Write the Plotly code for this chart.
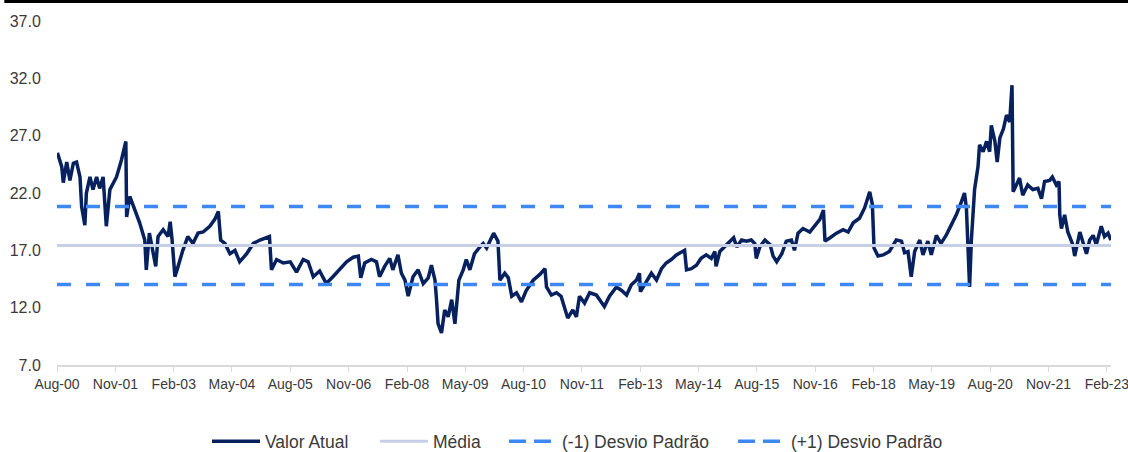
import plotly.graph_objects as go

# ---------------- data ----------------
DATES = [
    "2000-08-04", "2000-09-07", "2000-09-19", "2000-10-16", "2000-11-10", "2000-12-07",
    "2001-01-01", "2001-01-28", "2001-02-10", "2001-03-07", "2001-03-19", "2001-04-16", "2001-05-10",
    "2001-06-07", "2001-07-01", "2001-07-28", "2001-08-22", "2001-09-19", "2001-11-10", "2001-12-19",
    "2002-01-22", "2002-01-28", "2002-02-22", "2002-04-01", "2002-05-10", "2002-06-19", "2002-07-01",
    "2002-07-25", "2002-08-22", "2002-09-13", "2002-10-01", "2002-11-10", "2002-12-18",
    "2003-01-04", "2003-01-19", "2003-02-10", "2003-03-07", "2003-04-13", "2003-05-22", "2003-07-01",
    "2003-08-10", "2003-09-19", "2003-11-10", "2003-12-19",
    "2004-01-16", "2004-02-03", "2004-03-07", "2004-04-16", "2004-05-25", "2004-07-01", "2004-08-25",
    "2004-10-16", "2004-12-07",
    "2005-02-01", "2005-02-19", "2005-03-07", "2005-04-16", "2005-06-07", "2005-08-01", "2005-09-19",
    "2005-11-10", "2005-12-19",
    "2006-01-28", "2006-03-19", "2006-05-10", "2006-07-01", "2006-08-25", "2006-10-16", "2006-12-07",
    "2007-01-16", "2007-02-04", "2007-03-07", "2007-04-28", "2007-06-07", "2007-07-01", "2007-08-10",
    "2007-09-19", "2007-10-13", "2007-11-22", "2007-12-19",
    "2008-01-16", "2008-02-10", "2008-03-19", "2008-04-28", "2008-06-07", "2008-07-16", "2008-08-10",
    "2008-09-07", "2008-09-19", "2008-10-01", "2008-10-28", "2008-11-22", "2008-12-19",
    "2009-01-16", "2009-02-10", "2009-02-25", "2009-03-13", "2009-04-16", "2009-05-10", "2009-06-07",
    "2009-07-13", "2009-08-25", "2009-09-19", "2009-10-16", "2009-11-10", "2009-12-10",
    "2010-01-13", "2010-01-28", "2010-03-07", "2010-04-04", "2010-05-01", "2010-06-07", "2010-07-16",
    "2010-08-22", "2010-10-16", "2010-12-07",
    "2011-01-16", "2011-01-28", "2011-03-07", "2011-04-16", "2011-05-22", "2011-07-13", "2011-08-22",
    "2011-09-19", "2011-10-13", "2011-11-22",
    "2012-01-01", "2012-02-22", "2012-04-25", "2012-06-04", "2012-07-28", "2012-09-07", "2012-10-16",
    "2012-11-22",
    "2013-01-01", "2013-01-25", "2013-02-01", "2013-03-19", "2013-04-28", "2013-06-07", "2013-07-16",
    "2013-08-22", "2013-10-01", "2013-11-10", "2013-12-19",
    "2014-01-13", "2014-01-28", "2014-03-07", "2014-04-16", "2014-05-22", "2014-07-01", "2014-08-10",
    "2014-09-07", "2014-09-16", "2014-10-16", "2014-11-25",
    "2015-01-04", "2015-02-01", "2015-02-25", "2015-04-04", "2015-05-13", "2015-06-19", "2015-07-16",
    "2015-07-28", "2015-08-25", "2015-10-04", "2015-11-13", "2015-12-07",
    "2016-01-04", "2016-02-13", "2016-03-19", "2016-04-28", "2016-05-22", "2016-06-19", "2016-07-28",
    "2016-09-19", "2016-10-28", "2016-12-07",
    "2017-01-04", "2017-01-16", "2017-02-25", "2017-04-16", "2017-06-07", "2017-07-16", "2017-08-25",
    "2017-10-13", "2017-11-22",
    "2018-01-01", "2018-01-22", "2018-02-04", "2018-03-07", "2018-04-16", "2018-06-04", "2018-07-28",
    "2018-09-07", "2018-10-01", "2018-10-28", "2018-11-22", "2018-12-19",
    "2019-01-28", "2019-02-22", "2019-04-01", "2019-04-28", "2019-06-07", "2019-07-13", "2019-08-22",
    "2019-10-01", "2019-11-10", "2019-12-19",
    "2020-01-13", "2020-01-28", "2020-02-10", "2020-02-22", "2020-03-07", "2020-03-19", "2020-04-01",
    "2020-04-28", "2020-05-10", "2020-06-07", "2020-07-04", "2020-07-28", "2020-08-10", "2020-09-07",
    "2020-09-25", "2020-10-16", "2020-11-13", "2020-12-07",
    "2021-01-01", "2021-01-19", "2021-01-28", "2021-02-22", "2021-03-19", "2021-04-13", "2021-05-22",
    "2021-07-01", "2021-08-10", "2021-09-07", "2021-10-01", "2021-11-10", "2021-12-01",
    "2022-01-01", "2022-01-22", "2022-01-28", "2022-02-10", "2022-03-07", "2022-04-01", "2022-05-10",
    "2022-05-25", "2022-07-04", "2022-07-28", "2022-08-25", "2022-09-19", "2022-10-16", "2022-11-10",
    "2022-12-19",
    "2023-01-13", "2023-02-10", "2023-03-04",
]

VALUES = [
    25.5, 24.3, 22.9, 24.7, 23.1, 24.6,
    24.7, 23.4, 20.8, 19.2, 22.0, 23.4, 22.3,
    23.4, 22.4, 23.4, 19.1, 22.3, 23.4, 24.9,
    26.5, 19.9, 21.7, 20.5, 19.4, 17.9, 15.3,
    18.5, 17.0, 15.6, 18.2, 18.8, 18.2,
    19.5, 17.9, 14.7, 15.6, 17.0, 18.2, 17.6,
    18.5, 18.6, 19.1, 19.7,
    20.4, 17.9, 17.6, 16.7, 17.0, 16.0, 16.7,
    17.6, 17.9,
    18.1, 18.2, 15.3, 16.2, 15.9, 16.0, 15.1,
    16.2, 16.0,
    14.7, 15.2, 14.1, 14.7, 15.4, 16.0, 16.4,
    16.5, 14.6, 15.9, 16.2, 16.0, 14.7, 15.6,
    16.3, 15.3, 16.6, 15.0,
    14.4, 13.0, 14.7, 15.3, 14.1, 14.6, 15.7,
    14.4, 12.7, 10.6, 9.8, 11.8, 11.2,
    12.7, 10.6, 12.7, 14.4, 15.3, 16.2, 15.3,
    16.7, 17.3, 17.6, 17.2, 17.8, 18.5,
    17.8, 14.4, 15.0, 14.6, 13.0, 13.3, 12.5,
    13.5, 14.4, 14.9,
    15.4, 13.8, 13.1, 13.3, 13.0, 11.1, 11.8,
    11.2, 13.0, 12.4,
    13.3, 13.1, 12.1, 13.0, 13.8, 13.5, 13.1,
    14.0,
    14.4, 15.0, 13.4, 14.3, 15.0, 14.4, 15.4,
    15.9, 16.2, 16.6, 16.9,
    17.0, 15.3, 15.4, 15.7, 16.3, 16.6, 16.3,
    16.9, 15.6, 16.9, 17.3,
    17.8, 18.1, 17.3, 17.9, 17.8, 17.9, 17.6,
    16.3, 17.3, 17.9, 17.5, 16.5,
    16.0, 16.7, 17.8, 17.9, 17.0, 18.5, 18.9,
    18.6, 19.2, 19.7,
    20.5, 17.8, 18.1, 18.5, 18.8, 18.6, 19.4,
    19.8, 20.7,
    22.1, 21.0, 17.2, 16.5, 16.6, 16.9, 17.9,
    17.8, 16.8, 16.9, 14.7, 16.9,
    17.9, 16.6, 17.8, 16.6, 18.3, 17.6, 18.3,
    19.2, 20.1, 21.2,
    22.0, 20.7, 16.9, 13.8, 17.9, 20.2, 22.3,
    24.3, 26.2, 25.6, 26.5, 25.6, 27.9, 26.5,
    24.7, 26.8, 27.6, 28.8,
    28.2, 31.4, 22.1, 22.7, 23.3, 21.8, 22.7,
    22.3, 22.4, 21.5, 23.0, 23.1, 23.4,
    22.7, 23.0, 20.1, 18.9, 20.1, 18.6, 17.5,
    16.5, 18.6, 17.8, 16.7, 17.9, 18.3, 17.5,
    19.1,
    18.2, 18.5, 17.9,
]

MEDIA = 17.42          # Média
DESVIO = 3.40          # Desvio padrão
X_START = "2000-08-01"
X_END = "2023-03-05"

TICK_DATES = [
    "2000-08-01", "2001-11-01", "2003-02-01", "2004-05-01", "2005-08-01", "2006-11-01",
    "2008-02-01", "2009-05-01", "2010-08-01", "2011-11-01", "2013-02-01", "2014-05-01",
    "2015-08-01", "2016-11-01", "2018-02-01", "2019-05-01", "2020-08-01", "2021-11-01",
    "2023-02-01",
]
TICK_LABELS = [
    "Aug-00", "Nov-01", "Feb-03", "May-04", "Aug-05", "Nov-06", "Feb-08", "May-09", "Aug-10",
    "Nov-11", "Feb-13", "May-14", "Aug-15", "Nov-16", "Feb-18", "May-19", "Aug-20", "Nov-21",
    "Feb-23",
]

SERIES_NAMES = ["Valor Atual", "Média", "(-1) Desvio Padrão", "(+1) Desvio Padrão"]

# ---------------- styles ----------------
NAVY = "#07215f"
LAVENDER = "#c7cfe6"
BLUE = "#3d88f4"
FONT = "Liberation Sans, Arial, sans-serif"
TXT = "#3a3a3a"

# left pixel of each legend entry (page px) and plot geometry
LEGEND_LEFT_PX = [207, 375, 504, 733]
PLOT_L, PLOT_W = 57, 1054

fig = go.Figure()

fig.add_trace(go.Scatter(
    x=DATES, y=VALUES, mode="lines", name=SERIES_NAMES[0],
    line=dict(color=NAVY, width=3.5), legend="legend",
))
fig.add_trace(go.Scatter(
    x=[X_START, X_END], y=[MEDIA, MEDIA], mode="lines", name=SERIES_NAMES[1],
    line=dict(color=LAVENDER, width=3), legend="legend2",
))
fig.add_trace(go.Scatter(
    x=[X_START, X_END], y=[MEDIA - DESVIO, MEDIA - DESVIO], mode="lines",
    name=SERIES_NAMES[2], showlegend=False,
    line=dict(color=BLUE, width=3.5, dash="14px,15px"),
))
fig.add_trace(go.Scatter(
    x=[X_START, X_END], y=[MEDIA + DESVIO, MEDIA + DESVIO], mode="lines",
    name=SERIES_NAMES[3], showlegend=False,
    line=dict(color=BLUE, width=3.5, dash="14px,15px"),
))
# legend entries for dashed lines (shorter dash pattern as in the reference legend)
for nm, lg in zip(SERIES_NAMES[2:], ["legend3", "legend4"]):
    fig.add_trace(go.Scatter(
        x=[None], y=[None], mode="lines", name=nm, legend=lg,
        line=dict(color=BLUE, width=3.5, dash="17px,8px"),
    ))


def legend_box(px):
    return dict(
        orientation="h", xref="paper", yref="paper",
        x=(px - PLOT_L) / PLOT_W, xanchor="left", y=-0.222, yanchor="middle",
        font=dict(size=17.5, color=TXT, family=FONT),
        itemwidth=48, bgcolor="rgba(0,0,0,0)",
    )


fig.update_layout(
    width=1128, height=452,
    margin=dict(l=PLOT_L, r=17, t=21, b=87, autoexpand=False),
    paper_bgcolor="white", plot_bgcolor="white",
    font=dict(family=FONT, color=TXT),
    showlegend=True,
    legend=legend_box(LEGEND_LEFT_PX[0]),
    legend2=legend_box(LEGEND_LEFT_PX[1]),
    legend3=legend_box(LEGEND_LEFT_PX[2]),
    legend4=legend_box(LEGEND_LEFT_PX[3]),
    xaxis=dict(
        type="date", range=[X_START, X_END],
        tickmode="array", tickvals=TICK_DATES, ticktext=TICK_LABELS,
        showgrid=False, zeroline=False,
        showline=True, linecolor="#d9d9d9", linewidth=1.5,
        ticks="outside", ticklen=5, tickcolor="#d9d9d9", tickwidth=1,
        ticklabeloverflow="allow",
        tickfont=dict(size=14, color=TXT, family=FONT),
    ),
    yaxis=dict(
        range=[7, 37], tickmode="linear", tick0=7, dtick=5, tickformat=".1f",
        showgrid=False, zeroline=False, showline=False,
        ticks="outside", ticklen=12, tickcolor="rgba(0,0,0,0)",
        tickfont=dict(size=16, color=TXT, family=FONT),
    ),
    shapes=[dict(
        type="line", xref="paper", yref="paper",
        x0=-0.05, x1=1.02, y0=1.057, y1=1.057,
        line=dict(color="black", width=3),
    )],
)

fig.write_html(
    "out.html",
    config={"displayModeBar": False},
    post_script="document.body.style.margin='0px';",
)
